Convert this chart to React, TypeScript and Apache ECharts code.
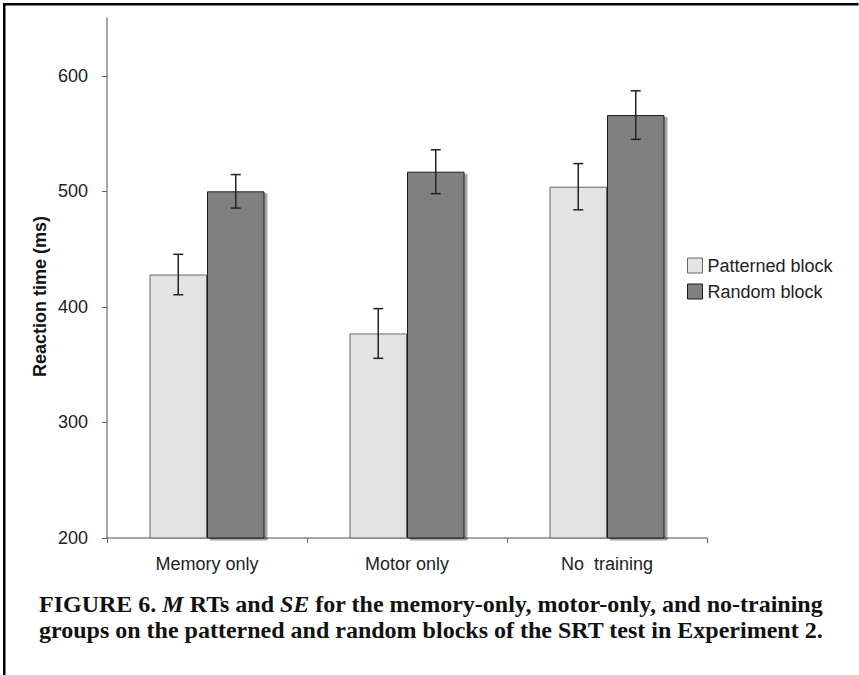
import React, { useEffect, useRef } from "react";
import * as echarts from "echarts";

const categories = ["Memory only", "Motor only", "No  training"];
const seriesNames = ["Patterned block", "Random block"];
const patternedMeans = [428, 377, 504];
const patternedSE = [17.5, 21.5, 20];
const randomMeans = [500, 517, 566];
const randomSE = [14.5, 19, 21];
const yTicks = [200, 300, 400, 500, 600];
const yAxisTitle = "Reaction time (ms)";
const captionLine1 = [
  { t: "FIGURE 6. ", s: "b" },
  { t: "M", s: "i" },
  { t: " RTs and ", s: "b" },
  { t: "SE", s: "i" },
  { t: " for the memory-only, motor-only, and no-training", s: "b" },
];
const captionLine2 = "groups on the patterned and random blocks of the SRT test in Experiment 2.";

const BAR_FRAC = 0.2875;

export default function App() {
  const ref = useRef<HTMLDivElement>(null);
  useEffect(() => {
    if (!ref.current) return;
    const chart = echarts.init(ref.current, null, { renderer: "svg" });
    const sans = "'Liberation Sans', Arial, Helvetica, sans-serif";
    const serif = "'Liberation Serif', 'Times New Roman', serif";
    const capSize = 24;

    const errData = (means: number[], se: number[]) =>
      means.map((m, i) => [i, m - se[i], m + se[i]]);

    const makeErr = (name: string, means: number[], se: number[], side: number) => ({
      type: "custom",
      name: name + " SE",
      data: errData(means, se),
      encode: { x: 0, y: [1, 2] },
      z: 10,
      silent: true,
      renderItem: (params: any, api: any) => {
        const ci = api.value(0);
        const lo = api.coord([ci, api.value(1)]);
        const hi = api.coord([ci, api.value(2)]);
        const bw = api.size([1, 0])[0] * BAR_FRAC;
        const x = lo[0] + (side * bw) / 2;
        const cap = 5;
        const st = { stroke: "#222", lineWidth: 1.5 };
        return {
          type: "group",
          children: [
            { type: "line", shape: { x1: x, y1: lo[1], x2: x, y2: hi[1] }, style: st },
            { type: "line", shape: { x1: x - cap, y1: lo[1], x2: x + cap, y2: lo[1] }, style: st },
            { type: "line", shape: { x1: x - cap, y1: hi[1], x2: x + cap, y2: hi[1] }, style: st },
          ],
        };
      },
    });

    const rich1: any = {
      b: { fontFamily: serif, fontWeight: "bold", fontSize: capSize, fill: "#111", color: "#111" },
      i: { fontFamily: serif, fontWeight: "bold", fontStyle: "italic", fontSize: capSize, fill: "#111", color: "#111" },
    };
    const line1Text = captionLine1.map((p) => `{${p.s}|${p.t}}`).join("");

    chart.setOption({
      animation: false,
      backgroundColor: "#ffffff",
      grid: { left: 107, right: 152, top: 18, bottom: 137, containLabel: false },
      legend: {
        orient: "vertical",
        left: 687,
        top: 256.5,
        padding: 0,
        itemWidth: 15,
        itemHeight: 15,
        itemGap: 8,
        icon: "rect",
        data: seriesNames,
        textStyle: { fontFamily: sans, fontSize: 18, color: "#222" },
        itemStyle: { borderWidth: 1, shadowColor: "rgba(0,0,0,0)", shadowOffsetX: 0, shadowOffsetY: 0 },
      },
      xAxis: {
        type: "category",
        data: categories,
        axisLine: { lineStyle: { color: "#888", width: 1.5 } },
        axisTick: { show: true, length: 5, lineStyle: { color: "#666", width: 1 } },
        axisLabel: { fontFamily: sans, fontSize: 18, color: "#222", margin: 17 },
        splitLine: { show: false },
      },
      yAxis: {
        type: "value",
        min: 200,
        max: 650,
        interval: 50,
        axisLine: { show: true, lineStyle: { color: "#888", width: 1.5 } },
        axisTick: { show: true, length: 5, inside: false, lineStyle: { color: "#666", width: 1 }, customValues: yTicks },
        axisLabel: { fontFamily: sans, fontSize: 18, color: "#222", margin: 19, customValues: yTicks },
        splitLine: { show: false },
      },
      series: [
        {
          type: "bar",
          name: seriesNames[0],
          data: patternedMeans,
          barWidth: BAR_FRAC * 100 + "%",
          barGap: "0%",
          itemStyle: { color: "#e3e3e3", borderColor: "#666", borderWidth: 1 },
        },
        {
          type: "bar",
          name: seriesNames[1],
          data: randomMeans,
          barWidth: BAR_FRAC * 100 + "%",
          barGap: "0%",
          itemStyle: {
            color: "#808080",
            borderColor: "#1a1a1a",
            borderWidth: 1,
            shadowColor: "rgba(0,0,0,0.35)",
            shadowOffsetX: 3,
            shadowOffsetY: 2,
            shadowBlur: 1,
          },
        },
        makeErr(seriesNames[0], patternedMeans, patternedSE, -1),
        makeErr(seriesNames[1], randomMeans, randomSE, 1),
      ],
      graphic: [
        { type: "rect", shape: { x: 3, y: 3, width: 855.5, height: 2.5 }, style: { fill: "#000" }, silent: true },
        { type: "rect", shape: { x: 3, y: 3, width: 2.5, height: 672 }, style: { fill: "#000" }, silent: true },
        {
          type: "text",
          x: 40,
          y: 296.5,
          rotation: Math.PI / 2,
          style: {
            text: yAxisTitle,
            fontFamily: sans,
            fontWeight: "bold",
            fontSize: 18,
            fill: "#111",
            align: "center",
            verticalAlign: "middle",
          },
        },
        {
          type: "text",
          x: 39,
          y: 604,
          style: {
            text: line1Text,
            rich: rich1,
            fontFamily: serif,
            fontWeight: "bold",
            fontSize: capSize,
            fill: "#111",
            align: "left",
            verticalAlign: "middle",
          },
        },
        {
          type: "text",
          x: 39,
          y: 630,
          style: {
            text: captionLine2,
            fontFamily: serif,
            fontWeight: "bold",
            fontSize: capSize,
            fill: "#111",
            align: "left",
            verticalAlign: "middle",
          },
        },
      ],
    });
    return () => chart.dispose();
  }, []);
  return (
    <div
      ref={ref}
      style={{ position: "fixed", left: 0, top: 0, width: 859, height: 675, background: "#fff" }}
    />
  );
}
